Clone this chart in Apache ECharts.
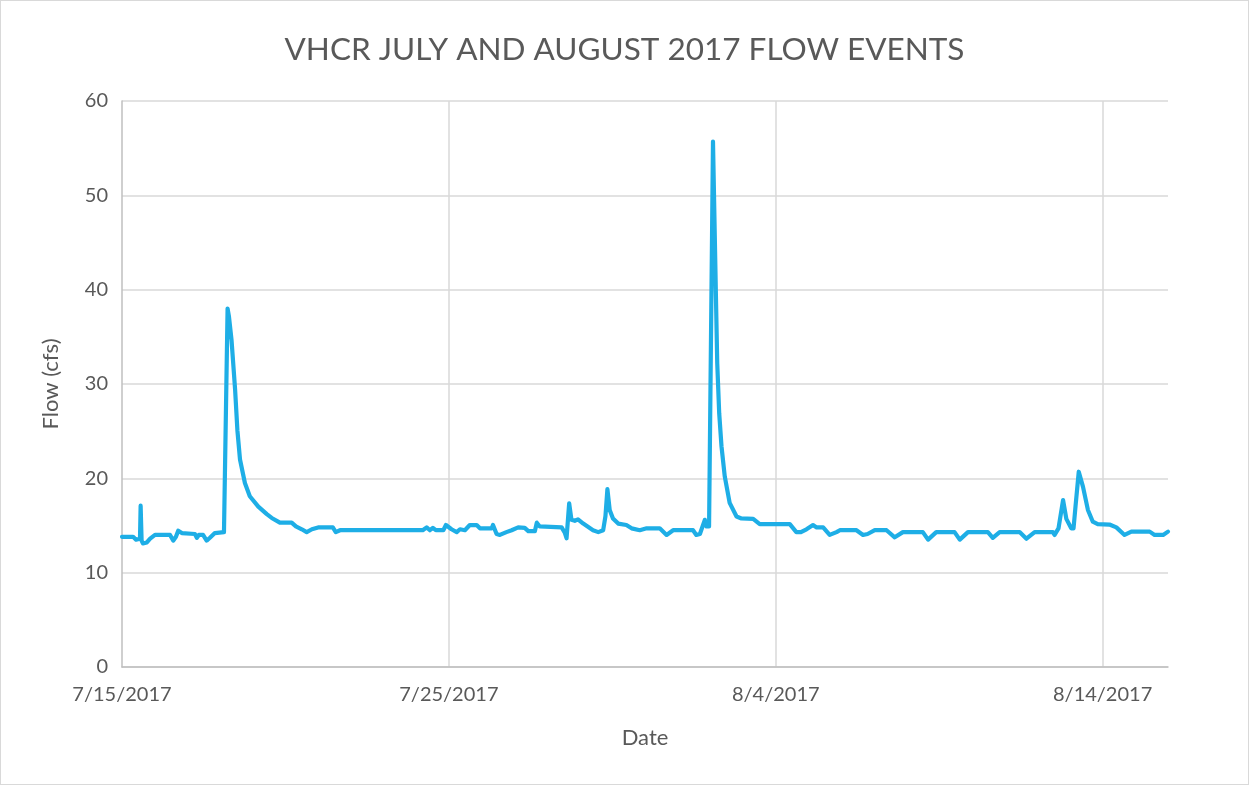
<!DOCTYPE html>
<html>
<head>
<meta charset="utf-8">
<script src="https://cdn.jsdelivr.net/npm/echarts@6/dist/echarts.min.js"></script>
<style>
html, body { margin: 0; padding: 0; background: #fff; }
#flowChart {
  width: 1247px;
  height: 783px;
  border: 1px solid #d9d9d9;
}
</style>
</head>
<body>
<div id="flowChart"></div>
<script>
// days since 7/15/2017 00:00
var dayOffsets = [
  0.00, 0.34, 0.43, 0.55, 0.57, 0.60, 0.64, 0.76, 0.86, 1.01,
  1.47, 1.57, 1.65, 1.72, 1.83, 2.23, 2.29, 2.35, 2.48, 2.59,
  2.69, 2.84, 3.12, 3.23, 3.27, 3.35, 3.46, 3.53, 3.61, 3.76,
  3.91, 4.17, 4.43, 4.58, 4.83, 5.19, 5.32, 5.50, 5.65, 5.81,
  6.00, 6.31, 6.45, 6.54, 6.67, 9.20, 9.32, 9.42, 9.51, 9.60,
  9.83, 9.91, 10.08, 10.24, 10.34, 10.49, 10.64, 10.85, 10.95, 11.31,
  11.35, 11.46, 11.56, 11.76, 11.92, 12.12, 12.32, 12.43, 12.63, 12.69,
  12.78, 13.45, 13.55, 13.60, 13.68, 13.75, 13.85, 13.95, 14.11, 14.41,
  14.57, 14.72, 14.79, 14.85, 14.92, 15.02, 15.18, 15.43, 15.59, 15.84,
  16.05, 16.45, 16.66, 16.86, 17.47, 17.57, 17.68, 17.83, 17.88, 17.96,
  18.08, 18.17, 18.21, 18.27, 18.34, 18.44, 18.59, 18.80, 18.95, 19.31,
  19.51, 20.43, 20.63, 20.77, 20.94, 21.14, 21.25, 21.45, 21.65, 21.86,
  21.96, 22.47, 22.67, 22.81, 23.03, 23.39, 23.64, 23.89, 24.50, 24.66,
  24.91, 25.47, 25.63, 25.88, 26.49, 26.64, 26.85, 27.46, 27.67, 27.92,
  28.48, 28.53, 28.65, 28.79, 28.89, 29.04, 29.11, 29.17, 29.27, 29.40,
  29.55, 29.70, 29.85, 30.21, 30.42, 30.67, 30.88, 31.44, 31.59, 31.85,
  32.00
];
var flows = [
  13.8, 13.8, 13.5, 13.6, 17.1, 13.4, 13.1, 13.2, 13.6, 14.0,
  14.0, 13.4, 13.8, 14.45, 14.2, 14.1, 13.7, 14.0, 14.0, 13.4,
  13.7, 14.2, 14.3, 38.0, 37.2, 34.7, 29.4, 25.1, 22.0, 19.5,
  18.1, 17.0, 16.2, 15.8, 15.3, 15.3, 14.9, 14.6, 14.3, 14.6,
  14.8, 14.8, 14.8, 14.3, 14.5, 14.5, 14.8, 14.5, 14.75, 14.5,
  14.5, 15.05, 14.6, 14.3, 14.6, 14.5, 15.05, 15.05, 14.7, 14.7,
  15.05, 14.1, 14.0, 14.3, 14.5, 14.8, 14.75, 14.4, 14.4, 15.3,
  14.9, 14.8, 14.2, 13.65, 17.35, 15.6, 15.5, 15.65, 15.2, 14.5,
  14.3, 14.5, 16.0, 18.85, 16.65, 15.75, 15.2, 15.05, 14.7, 14.5,
  14.7, 14.7, 14.0, 14.5, 14.5, 14.0, 14.1, 15.6, 14.9, 14.9,
  55.7, 39.3, 32.2, 26.9, 23.4, 20.2, 17.4, 15.95, 15.75, 15.7,
  15.15, 15.15, 14.3, 14.3, 14.6, 15.05, 14.8, 14.8, 14.0, 14.3,
  14.5, 14.5, 14.0, 14.1, 14.5, 14.5, 13.75, 14.3, 14.3, 13.5,
  14.3, 14.3, 13.5, 14.3, 14.3, 13.7, 14.3, 14.3, 13.6, 14.3,
  14.3, 14.0, 14.7, 17.7, 15.7, 14.7, 14.7, 17.0, 20.7, 19.1,
  16.65, 15.4, 15.15, 15.1, 14.8, 14.0, 14.35, 14.35, 14.0, 14.0,
  14.35
];
var yTicks = [0, 10, 20, 30, 40, 50, 60];

var startDate = new Date(2017, 6, 15);

function dayLabel(d) {
  var dt = new Date(startDate.getTime());
  dt.setDate(dt.getDate() + Math.round(d));
  return (dt.getMonth() + 1) + '/' + dt.getDate() + '/' + dt.getFullYear();
}

var seriesData = dayOffsets.map(function (d, i) {
  return [d, flows[i]];
});

var chart = echarts.init(document.getElementById('flowChart'));
chart.setOption({
  backgroundColor: '#fff',
  animation: false,
  textStyle: { fontFamily: 'Lato' },
  title: {
    text: 'VHCR JULY AND AUGUST 2017 FLOW EVENTS',
    left: 'center',
    top: 28,
    textStyle: {
      fontFamily: 'Lato',
      fontSize: 31.5,
      fontWeight: 'normal',
      color: '#595959'
    }
  },
  grid: {
    left: 121,
    right: 80,
    top: 100,
    bottom: 117,
    containLabel: false
  },
  xAxis: {
    type: 'value',
    min: 0,
    max: 32,
    interval: 10,
    name: 'Date',
    nameLocation: 'middle',
    nameGap: 60,
    nameTextStyle: { fontSize: 22, color: '#595959' },
    axisLine: { show: true, lineStyle: { color: '#bfbfbf', width: 1.5 } },
    axisTick: { show: false },
    axisLabel: {
      showMaxLabel: false,
      margin: 18,
      fontSize: 20,
      color: '#595959',
      formatter: function (v) { return dayLabel(v); }
    },
    splitLine: {
      show: true,
      showMinLine: false,
      showMaxLine: false,
      lineStyle: { color: '#d9d9d9', width: 1.5 }
    }
  },
  yAxis: {
    type: 'value',
    min: yTicks[0],
    max: yTicks[yTicks.length - 1],
    interval: 10,
    name: 'Flow (cfs)',
    nameLocation: 'middle',
    nameGap: 60,
    nameTextStyle: { fontSize: 22, color: '#595959' },
    axisLine: { show: true, lineStyle: { color: '#bfbfbf', width: 1.5 } },
    axisTick: { show: false },
    axisLabel: { margin: 14, fontSize: 20, color: '#595959' },
    splitLine: { lineStyle: { color: '#d9d9d9', width: 1.5 } }
  },
  series: [{
    type: 'line',
    data: seriesData,
    showSymbol: false,
    symbol: 'none',
    lineStyle: { color: '#1eaee6', width: 4.2, join: 'round', cap: 'round' },
    itemStyle: { color: '#1eaee6' }
  }]
});
</script>
</body>
</html>
